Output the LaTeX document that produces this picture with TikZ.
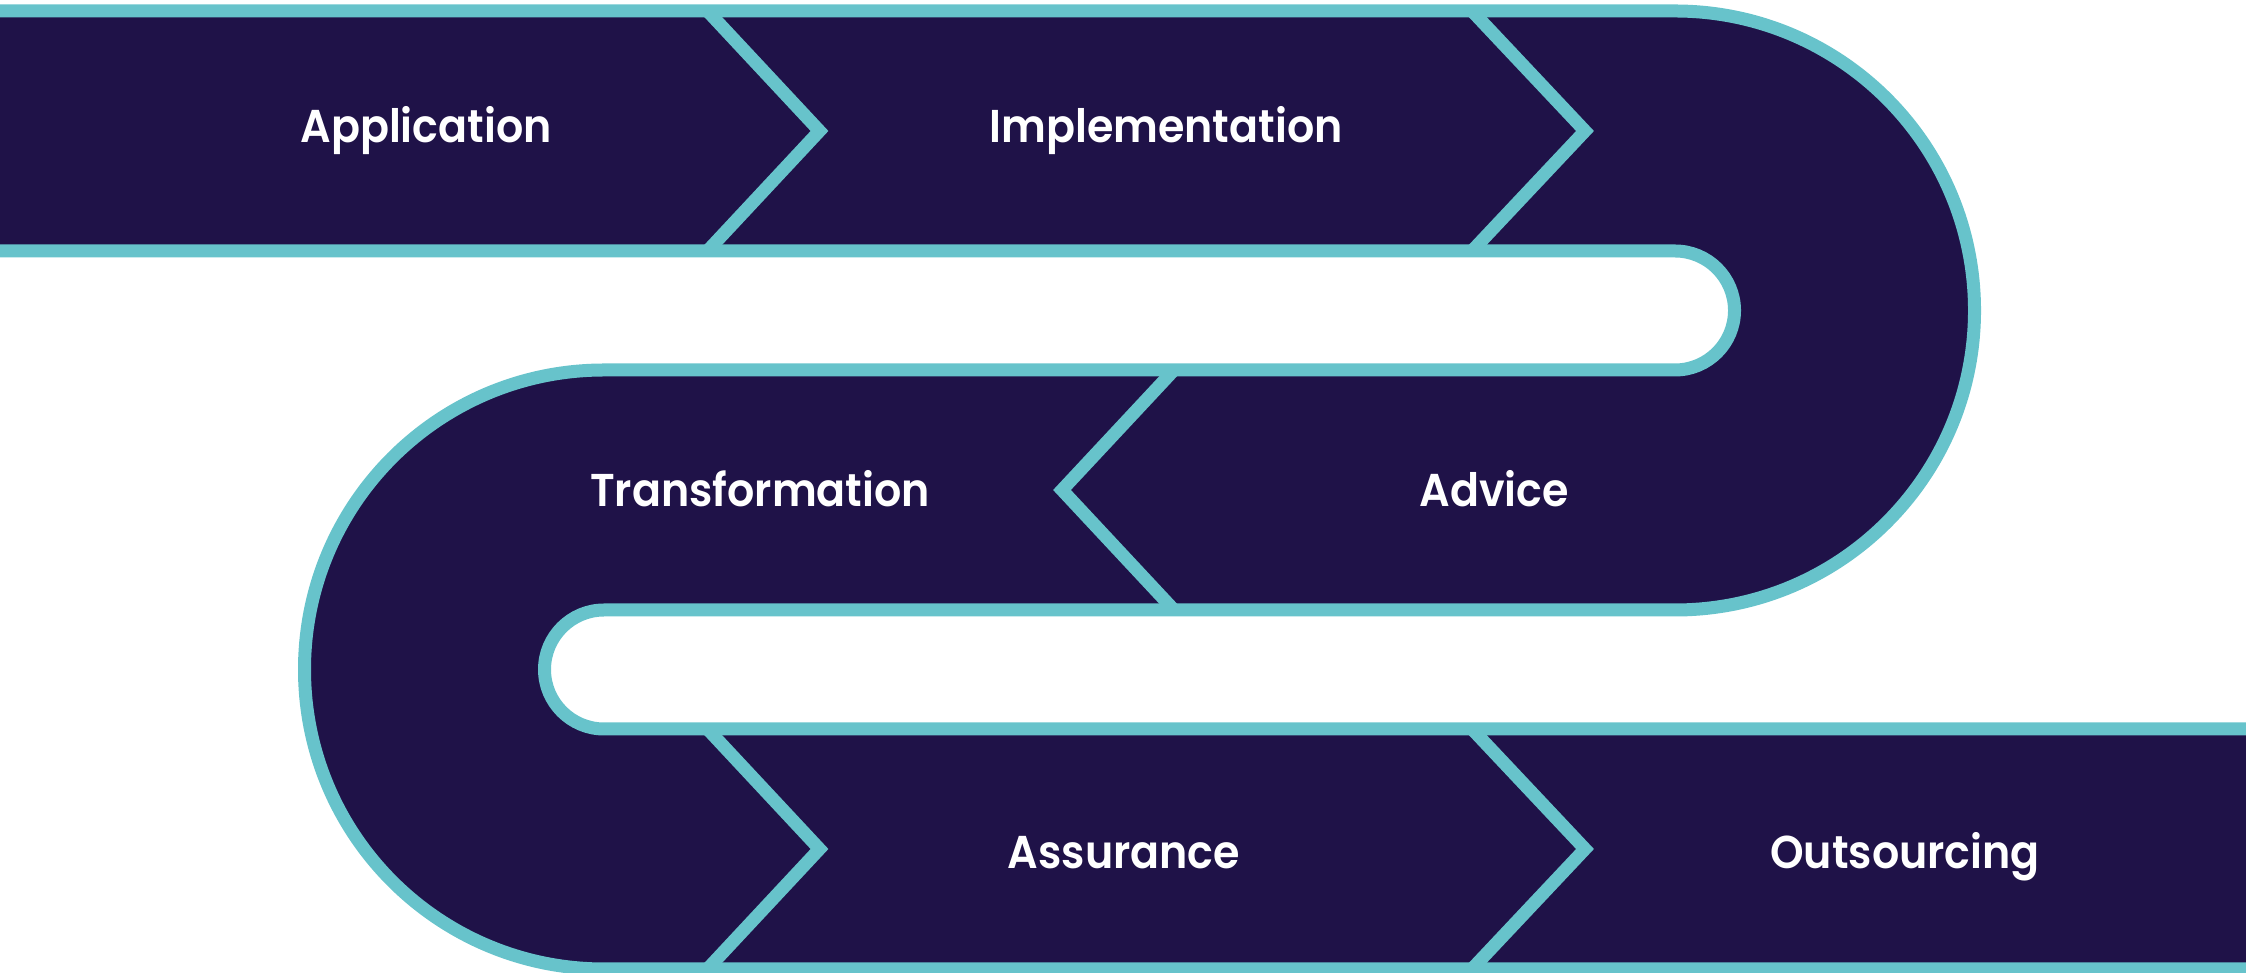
\documentclass[tikz,border=0pt]{standalone}
\usepackage{fontspec}
\setmainfont{Poppins}[BoldFont={Poppins SemiBold},BoldFeatures={FakeStretch=0.93}]
\definecolor{navy}{HTML}{1F1248}
\definecolor{teal}{HTML}{67C3CB}
\begin{document}
\begin{tikzpicture}[x=0.5pt,y=0.5pt,
  band/.style={fill=navy,draw=teal,line width=6.5pt,line join=miter},
  chev/.style={draw=teal,line width=6.5pt,line join=miter,miter limit=10},
  lbl/.style={text=white,font=\fontsize{23}{28}\selectfont\bfseries,anchor=base,inner sep=0pt}]
\useasboundingbox (0,0) rectangle (2246,973);
% serpentine band
\path[band] (-30,962) -- (1675,962)
  arc[start angle=90,end angle=-90,radius=299.5]
  -- (604,363)
  arc[start angle=90,end angle=270,radius=59.5]
  -- (2280,244) -- (2280,4) -- (604,4)
  arc[start angle=270,end angle=90,radius=299.5]
  -- (1675,603)
  arc[start angle=-90,end angle=90,radius=59.5]
  -- (-30,722) -- cycle;
% chevrons
\coordinate (c1t) at (707.5,962); \coordinate (c1p) at (819.5,842); \coordinate (c1b) at (707.5,722);
\coordinate (c2t) at (1472,962); \coordinate (c2p) at (1585,842); \coordinate (c2b) at (1472,722);
\coordinate (c3t) at (1174,603); \coordinate (c3p) at (1062,483); \coordinate (c3b) at (1174,363);
\coordinate (c4t) at (707.5,244); \coordinate (c4p) at (819.5,124); \coordinate (c4b) at (707.5,4);
\coordinate (c5t) at (1472,244); \coordinate (c5p) at (1585,124); \coordinate (c5b) at (1472,4);
\draw[chev] (c1t) -- (c1p) -- (c1b);
\draw[chev] (c2t) -- (c2p) -- (c2b);
\draw[chev] (c3t) -- (c3p) -- (c3b);
\draw[chev] (c4t) -- (c4p) -- (c4b);
\draw[chev] (c5t) -- (c5p) -- (c5b);
% labels
\node[lbl] (app) at (426,830) {Application};
\node[lbl] (imp) at (1166,830) {Implementation};
\node[lbl] (tra) at (760,466) {Transformation};
\node[lbl] (adv) at (1494,466) {Advice};
\node[lbl] (ass) at (1124,104) {Assurance};
\node[lbl] (out) at (1905,104) {Outsourcing};
\end{tikzpicture}
\end{document}
